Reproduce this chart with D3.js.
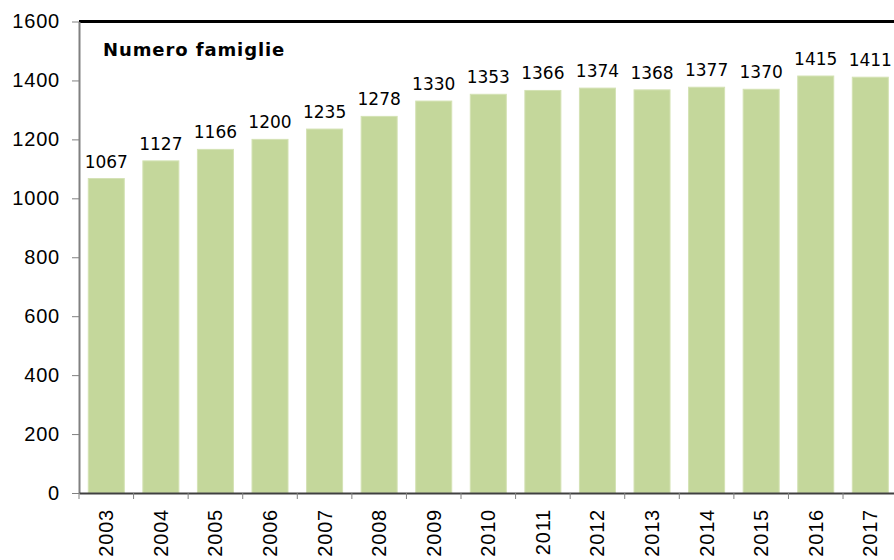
<!DOCTYPE html>
<html><head><meta charset="utf-8">
<script src="https://cdn.jsdelivr.net/npm/d3@7"></script>
<style>body{margin:0;background:#fff}svg{display:block}</style>
</head><body>
<svg id="chart" width="894" height="560"></svg>
<script>
const years = ["2003","2004","2005","2006","2007","2008","2009","2010","2011","2012","2013","2014","2015","2016","2017"];
const famiglie = [1067,1127,1166,1200,1235,1278,1330,1353,1366,1374,1368,1377,1370,1415,1411];
const yTicks = [0,200,400,600,800,1000,1200,1400,1600];
const chartTitle = "Numero famiglie";

(function(){
const svg = d3.select("#chart");
const mLeft = 79, mRight = 897.6, mTop = 21.5, mBottom = 493;
const font = "'DejaVu Sans', Verdana, sans-serif";
const axisFont = "'Liberation Sans', Arial, sans-serif";

const x = d3.scaleBand().domain(years).range([mLeft, mRight]).paddingInner(0.34).paddingOuter(0.17);
const y = d3.scaleLinear().domain([0,1600]).range([mBottom, mTop]);

// bars
svg.append("g").selectAll("rect").data(years).join("rect")
  .attr("x", d => x(d))
  .attr("y", (d,i) => y(famiglie[i]))
  .attr("width", x.bandwidth())
  .attr("height", (d,i) => mBottom - y(famiglie[i]))
  .attr("fill", "#c4d79b")
  .attr("stroke", "#d4e2b4").attr("stroke-width", 1);

// value labels
svg.append("g").selectAll("text").data(years).join("text")
  .attr("x", d => x(d) + x.bandwidth()/2)
  .attr("y", (d,i) => y(famiglie[i]) - 11)
  .attr("text-anchor", "middle")
  .attr("font-family", font).attr("font-size", 17).attr("fill", "#000")
  .text((d,i) => famiglie[i]);

// top border
svg.append("line").attr("x1", mLeft).attr("x2", 894).attr("y1", mTop).attr("y2", mTop)
  .attr("stroke", "#000").attr("stroke-width", 3);

// y axis
const yAxis = svg.append("g").attr("transform", `translate(${mLeft},0)`)
  .call(d3.axisLeft(y).tickValues(yTicks).tickFormat(d3.format("d")).tickSize(7).tickPadding(12).tickSizeOuter(0));
yAxis.select(".domain").attr("stroke", "#808080").attr("stroke-width", 2);
yAxis.selectAll(".tick line").attr("stroke", "#808080").attr("stroke-width", 1);
yAxis.selectAll("text").attr("font-family", axisFont).attr("font-size", 20)
  .attr("letter-spacing", 0.8).attr("fill", "#000");

// x axis
const xAxis = svg.append("g").attr("transform", `translate(0,${mBottom})`)
  .call(d3.axisBottom(x).tickSize(0).tickSizeOuter(0));
xAxis.select(".domain").attr("stroke", "#404040").attr("stroke-width", 2);
xAxis.selectAll(".tick line").remove();
xAxis.selectAll("text")
  .attr("font-family", axisFont).attr("font-size", 20).attr("letter-spacing", 0.8).attr("fill", "#000")
  .attr("transform", "rotate(-90)")
  .attr("text-anchor", "end").attr("dy", "0.35em").attr("x", -16).attr("y", 0);
// category boundary ticks
const bounds = d3.range(years.length + 1).map(i => mLeft + i * x.step());
svg.append("g").selectAll("line").data(bounds).join("line")
  .attr("x1", d => d).attr("x2", d => d)
  .attr("y1", mBottom).attr("y2", mBottom + 6)
  .attr("stroke", "#808080").attr("stroke-width", 1);

// title
svg.append("text").attr("x", 103).attr("y", 56)
  .attr("font-family", font).attr("font-size", 18).attr("font-weight", "bold")
  .attr("letter-spacing", 0.9)
  .text(chartTitle);
})();
</script>
</body></html>
